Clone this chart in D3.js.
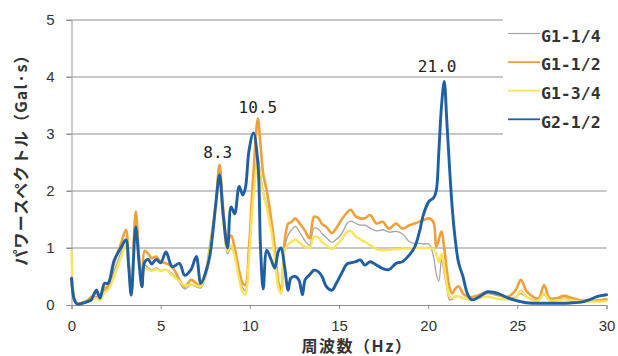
<!DOCTYPE html>
<html><head><meta charset="utf-8">
<script src="https://cdn.jsdelivr.net/npm/d3@7/dist/d3.min.js"></script>
<style>body{margin:0;background:#fff}svg{display:block}</style>
</head><body>
<svg id="c" width="618" height="356"></svg>
<script>
const freq = [0,0.15,0.3,0.6,0.9,1.1,1.4,1.6,1.85,2.05,2.4,2.8,3.05,3.2,3.35,3.6,3.8,3.95,4.1,4.3,4.5,4.75,5.0,5.3,5.65,6.05,6.35,6.7,7.0,7.25,7.55,7.75,7.95,8.1,8.3,8.5,8.75,8.95,9.15,9.4,9.6,9.75,9.95,10.2,10.45,10.6,10.75,10.95,11.2,11.4,11.6,11.75,11.95,12.15,12.3,12.55,12.75,12.95,13.1,13.35,13.6,13.85,14.05,14.3,14.6,14.85,15.15,15.45,15.65,15.95,16.2,16.45,16.75,17.1,17.45,17.8,18.2,18.55,18.95,19.25,19.5,19.75,20.05,20.3,20.45,20.6,20.75,20.9,21.05,21.2,21.35,21.5,21.7,21.95,22.2,22.45,22.9,23.3,23.7,24.1,24.5,24.9,25.2,25.5,25.9,26.2,26.5,26.8,27.2,27.6,28.1,28.6,29.1,29.5,30.0];

const g1_14 = [0.4,0.1,0.03,0.03,0.05,0.1,0.15,0.08,0.25,0.3,0.6,0.95,1.15,0.7,0.2,1.4,0.7,0.35,0.7,0.65,0.62,0.65,0.6,0.62,0.55,0.4,0.28,0.35,0.32,0.3,0.5,0.9,1.35,1.75,2.3,1.6,0.9,1.0,0.85,0.5,0.3,0.25,0.9,2.0,2.6,2.3,2.0,1.75,1.35,0.9,0.4,0.3,1.0,1.23,1.3,1.38,1.3,1.2,1.12,1.05,1.35,1.33,1.25,1.18,1.1,1.15,1.25,1.43,1.47,1.43,1.4,1.4,1.35,1.3,1.32,1.28,1.29,1.25,1.11,1.08,1.08,1.07,1.07,0.85,0.55,0.42,0.8,0.55,0.3,0.09,0.1,0.14,0.15,0.12,0.1,0.1,0.14,0.2,0.18,0.15,0.12,0.14,0.2,0.14,0.1,0.1,0.18,0.1,0.1,0.12,0.1,0.07,0.07,0.07,0.08];

const g1_12 = [0.45,0.1,0.03,0.04,0.08,0.14,0.2,0.15,0.3,0.33,0.75,1.1,1.32,0.8,0.2,1.64,0.8,0.35,0.95,0.9,0.82,0.85,0.76,0.73,0.67,0.44,0.32,0.44,0.38,0.35,0.61,1.0,1.43,1.8,2.46,1.72,1.14,1.22,1.0,0.6,0.38,0.35,1.0,2.3,3.27,2.8,2.3,2.0,1.5,1.0,0.4,0.26,1.11,1.43,1.45,1.52,1.45,1.37,1.3,1.17,1.55,1.52,1.42,1.37,1.26,1.35,1.5,1.62,1.67,1.55,1.52,1.52,1.58,1.43,1.46,1.34,1.43,1.34,1.4,1.43,1.46,1.49,1.52,1.45,1.02,1.15,1.29,1.0,0.6,0.3,0.2,0.28,0.33,0.2,0.15,0.14,0.18,0.23,0.2,0.16,0.15,0.26,0.44,0.25,0.14,0.12,0.35,0.12,0.12,0.16,0.12,0.08,0.08,0.08,0.1];

const g1_34 = [0.95,0.15,0.03,0.03,0.05,0.08,0.12,0.08,0.22,0.26,0.5,0.85,1.05,0.7,0.2,1.35,0.7,0.35,0.65,0.62,0.6,0.63,0.6,0.62,0.52,0.42,0.34,0.36,0.34,0.33,0.55,0.95,1.35,1.7,2.2,1.5,0.95,1.05,0.85,0.45,0.22,0.18,0.8,1.9,2.5,2.2,1.95,1.7,1.3,0.8,0.3,0.2,0.95,1.07,1.1,1.15,1.1,1.05,1.02,1.0,1.2,1.18,1.1,1.05,0.98,1.05,1.15,1.28,1.3,1.2,1.15,1.11,1.05,0.98,0.96,0.97,0.98,0.99,0.99,1.0,1.0,1.0,1.0,0.98,0.9,0.75,0.9,0.65,0.35,0.15,0.12,0.15,0.15,0.12,0.1,0.1,0.12,0.15,0.12,0.1,0.1,0.12,0.25,0.15,0.08,0.08,0.2,0.08,0.08,0.1,0.08,0.06,0.06,0.06,0.07];

const g2_12 = [0.47,0.1,0.02,0.03,0.06,0.09,0.26,0.12,0.38,0.38,0.79,1.02,1.14,0.7,0.17,1.37,0.7,0.32,0.75,0.8,0.72,0.8,0.74,0.93,0.67,0.73,0.52,0.62,0.85,0.38,0.6,0.85,1.35,1.8,2.28,1.6,1.0,1.72,1.6,2.08,1.93,2.05,2.7,3.02,2.5,1.0,0.28,0.96,0.79,0.65,0.94,1.0,0.67,0.26,0.47,0.5,0.44,0.18,0.44,0.53,0.61,0.58,0.5,0.32,0.26,0.38,0.56,0.72,0.74,0.76,0.79,0.7,0.76,0.7,0.64,0.62,0.73,0.76,0.88,1.02,1.27,1.6,1.82,1.88,2.0,2.7,3.5,3.92,3.2,2.4,1.7,1.2,0.75,0.5,0.2,0.09,0.15,0.23,0.22,0.18,0.12,0.08,0.06,0.04,0.03,0.03,0.03,0.03,0.03,0.03,0.04,0.05,0.1,0.15,0.18];

const seriesNames = ["G1-1/4","G1-1/2","G1-3/4","G2-1/2"];
const xTicks = [0,5,10,15,20,25,30];
const yTicks = [0,1,2,3,4,5];
const peakLabels = ["8.3","10.5","21.0"];
const peakFreqs = [8.2,10.45,20.5];
const peakValues = [2.46,3.27,3.92];

const seriesData = [g1_14, g1_12, g1_34, g2_12];
const colors = ["#a4a4a4","#f0a038","#fbe45a","#1f5fa6"];
const widths = [1.3,2.6,2.4,2.9];

const svg = d3.select("#c");
const x = d3.scaleLinear().domain([0,30]).range([71.5,606.5]);
const y = d3.scaleLinear().domain([0,5]).range([305,20]);

// grid
svg.append("g").selectAll("line").data(yTicks.filter(d=>d>0)).join("line")
  .attr("x1",x(0)-5).attr("x2",x(30)).attr("y1",d=>y(d)).attr("y2",d=>y(d))
  .attr("stroke","#8f8f8f").attr("stroke-width",1);

// axes
const yAxis = d3.axisLeft(y).tickValues(yTicks).tickSize(5).tickPadding(12).tickFormat(d3.format("d"));
const gy = svg.append("g").attr("transform",`translate(${x(0)},0)`).call(yAxis);
gy.select(".domain").attr("stroke","#9a9a9a");
gy.selectAll(".tick line").attr("stroke","#8f8f8f");
gy.selectAll("text").attr("font-family","Liberation Sans, Arial, sans-serif").attr("font-size",15).attr("fill","#333");

const xAxis = d3.axisBottom(x).tickValues(xTicks).tickSize(4).tickPadding(11).tickFormat(d3.format("d"));
const gx = svg.append("g").attr("transform",`translate(0,${y(0)})`).call(xAxis);
gx.select(".domain").attr("stroke","#8f8f8f");
gx.selectAll(".tick line").attr("stroke","#8f8f8f");
gx.selectAll("text").attr("font-family","Liberation Sans, Arial, sans-serif").attr("font-size",15).attr("fill","#333");

// legend background
svg.append("rect").attr("x",503).attr("y",8).attr("width",115).attr("height",150).attr("fill","#fff");

// lines
const line = d3.line().x((d,i)=>x(freq[i])).y(d=>y(d)).curve(d3.curveCatmullRom.alpha(0.5));
svg.append("g").selectAll("path").data(seriesData).join("path")
  .attr("d",d=>line(d)).attr("fill","none")
  .attr("stroke",(d,i)=>colors[i]).attr("stroke-width",(d,i)=>widths[i])
  .attr("stroke-linejoin","round").attr("stroke-linecap","round");

// peak labels
svg.append("g").selectAll("text").data(peakLabels).join("text")
  .attr("x",(d,i)=>x(peakFreqs[i])).attr("y",(d,i)=>y(peakValues[i])-[7,6,10][i])
  .attr("text-anchor","middle").attr("font-family","DejaVu Sans Mono, monospace")
  .attr("font-size",16).attr("fill","#222").text(d=>d);

// legend
const lg = svg.append("g");
seriesNames.forEach((n,i)=>{
  const yy = 33.5 + i*28.6;
  lg.append("line").attr("x1",508).attr("x2",540).attr("y1",yy).attr("y2",yy)
    .attr("stroke",colors[i]).attr("stroke-width",i===0?1.2:1.8);
  lg.append("text").attr("x",541).attr("y",yy+8.3).attr("font-family","DejaVu Sans Mono, monospace")
    .attr("font-size",16.5).attr("font-weight","bold").attr("fill","#333").text(n);
});

// axis titles
svg.append("text").attr("transform","translate(27,156) rotate(-90)")
  .attr("text-anchor","middle").attr("font-family","Noto Sans CJK JP, sans-serif")
  .attr("font-size",16).attr("font-weight","bold").attr("fill","#333").attr("letter-spacing",1.2)
  .text("パワースペクトル（Gal·s）");
svg.append("text").attr("x",357).attr("y",352).attr("text-anchor","middle")
  .attr("font-family","Noto Sans CJK JP, sans-serif").attr("font-size",16).attr("font-weight","bold")
  .attr("fill","#333").attr("letter-spacing",1.5).text("周波数（Hz）");
</script>
</body></html>
